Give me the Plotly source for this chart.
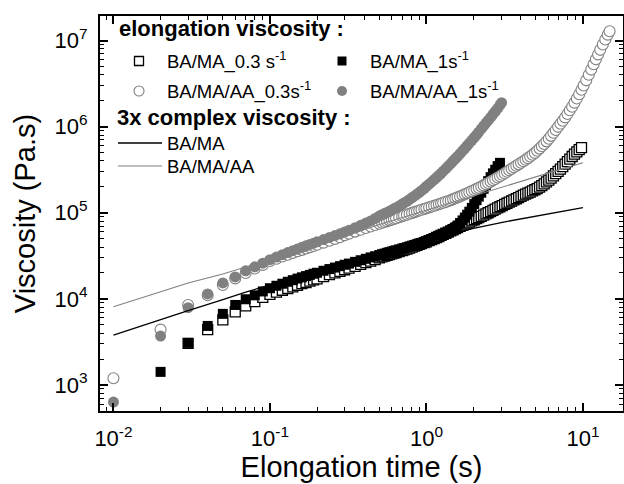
import plotly.graph_objects as go

# ---------------- data ----------------
# BA/MA, 0.3 s^-1 (open squares)
t_bama_03 = [0.03, 0.04, 0.05, 0.06, 0.07, 0.08, 0.09, 0.10, 0.11, 0.12, 0.13, 0.14, 0.15, 0.16, 0.17, 0.18, 0.19, 0.20,
             0.22, 0.24, 0.26, 0.28, 0.30, 0.32, 0.35, 0.38, 0.41, 0.44, 0.47,
             0.50, 0.52, 0.54, 0.56, 0.58, 0.60, 0.62, 0.64, 0.67, 0.70, 0.72, 0.75, 0.78, 0.81, 0.84, 0.87, 0.90, 0.93,
             0.97, 1.00, 1.04, 1.08, 1.12, 1.16, 1.20, 1.24, 1.28, 1.33, 1.38, 1.43, 1.48, 1.53, 1.58, 1.64, 1.70, 1.76,
             1.82, 1.88, 1.95, 2.02, 2.09, 2.16, 2.24, 2.32, 2.40, 2.48, 2.57, 2.66, 2.75, 2.85, 2.95, 3.05, 3.16, 3.27,
             3.38, 3.50, 3.62, 3.75, 3.88, 4.02, 4.16, 4.30, 4.45, 4.60, 4.76, 4.93, 5.10, 5.28, 5.46, 5.65, 5.85, 6.05,
             6.26, 6.48, 6.70, 6.94, 7.18, 7.43, 7.69, 7.96, 8.24, 8.53, 8.83, 9.14, 9.46, 9.79]
v_bama_03 = [3050, 4400, 5700, 7060, 8300, 9300, 10400, 11300, 12000, 12600, 13200, 13800, 14400, 15000, 15500, 16100,
             16600, 17100, 18100, 19100, 20000, 20900, 21800, 22700, 23900, 25100, 26300, 27400, 28500,
             30000, 30700, 31300, 32000, 32600, 33300, 33900, 34500, 35400, 36300, 37000, 37900, 38900, 39900, 40900,
             41900, 42900, 43900, 45000, 46000, 47400, 48800, 50200, 51600, 53000, 54500, 56000, 57800, 59700, 61600,
             63500, 65300, 67200, 69500, 71700, 73800, 75900, 78000, 80600, 83000, 85500, 88000, 91000, 94000, 97000,
             100000, 103000, 106500, 110000, 114000, 117500, 121000, 125000, 129000, 133000, 137000, 141000, 145500,
             150000, 155000, 160000, 164500, 169000, 174000, 179500, 185000, 191000, 199000, 207000, 216000, 228000,
             240000, 253000, 268000, 285000, 303000, 322000, 343000, 367000, 393000, 420000, 450000, 480000, 510000,
             540000, 570000]

# BA/MA, 1 s^-1 (filled squares)
t_bama_1 = [0.02, 0.03, 0.04, 0.05, 0.06, 0.07, 0.08, 0.09, 0.10, 0.11, 0.12, 0.13, 0.14, 0.15, 0.16, 0.17, 0.18, 0.19,
            0.20, 0.22, 0.24, 0.26, 0.28, 0.30, 0.32, 0.35, 0.38, 0.41, 0.44, 0.47,
            0.50, 0.52, 0.54, 0.56, 0.58, 0.60, 0.62, 0.64, 0.67, 0.70, 0.72, 0.75, 0.78, 0.81, 0.84, 0.87, 0.90, 0.93,
            0.97, 1.00, 1.04, 1.08, 1.12, 1.16, 1.20, 1.24, 1.28, 1.33, 1.38, 1.43, 1.48, 1.53, 1.58, 1.64, 1.70, 1.76,
            1.82, 1.88, 1.95, 2.02, 2.09, 2.16, 2.24, 2.32, 2.40, 2.48, 2.57, 2.66, 2.75, 2.85, 2.95]
v_bama_1 = [1420, 3080, 4850, 6700, 8500, 9900, 11000, 12200, 13300, 14200, 15000, 15800, 16500, 17200, 17800, 18400,
            19000, 19600, 20100, 21200, 22200, 23100, 24000, 24900, 25700, 26900, 28100, 29200, 30300, 31300,
            32300, 33000, 33600, 34300, 34900, 35500, 36100, 36700, 37600, 38400, 39000, 39800, 40700, 41500, 42300,
            43100, 43900, 44700, 45800, 46700, 47900, 49100, 50400, 51700, 53000, 54400, 55900, 57800, 59700, 62000,
            64500, 67500, 71000, 76000, 81500, 88000, 95000, 103000, 114000, 126000, 140000, 154000, 171000, 190000,
            211000, 233000, 259000, 287000, 316000, 348000, 380000]

# BA/MA/AA, 0.3 s^-1 (open circles)
t_aa_03 = [0.01, 0.02, 0.03, 0.04, 0.05, 0.06, 0.07, 0.08, 0.09, 0.10, 0.11, 0.12, 0.13, 0.14, 0.15, 0.16, 0.17, 0.18,
           0.19, 0.20, 0.22, 0.24, 0.26, 0.28, 0.30, 0.32, 0.35, 0.38, 0.41, 0.44, 0.47,
           0.50, 0.52, 0.54, 0.56, 0.58, 0.60, 0.62, 0.64, 0.67, 0.70, 0.72, 0.75, 0.78, 0.81, 0.84, 0.87, 0.90, 0.93,
           0.97, 1.00, 1.04, 1.08, 1.12, 1.16, 1.20, 1.24, 1.28, 1.33, 1.38, 1.43, 1.48, 1.53, 1.58, 1.64, 1.70, 1.76,
           1.82, 1.88, 1.95, 2.02, 2.09, 2.16, 2.24, 2.32, 2.40, 2.48, 2.57, 2.66, 2.75, 2.85, 2.95, 3.05, 3.16, 3.27,
           3.38, 3.50, 3.62, 3.75, 3.88, 4.02, 4.16, 4.30, 4.45, 4.60, 4.76, 4.93, 5.10, 5.28, 5.46, 5.65, 5.85, 6.05,
           6.26, 6.48, 6.70, 6.94, 7.18, 7.43, 7.69, 7.96, 8.24, 8.53, 8.83, 9.14, 9.46, 9.79, 10.1, 10.5, 10.9, 11.3,
           11.7, 12.1, 12.5, 12.9, 13.4, 13.9, 14.4, 14.8]
v_aa_03 = [1200, 4400, 8500, 11000, 14500, 17300, 20000, 22500, 24800, 27500, 29300, 31000, 32600, 34200, 35700, 37100,
           38500, 39900, 41200, 42500, 45000, 47400, 49700, 51900, 55000, 57200, 60400, 63500, 66500, 69300, 72000,
           74700, 76500, 78200, 79900, 81600, 83200, 84900, 86500, 88900, 91200, 92800, 95100, 97400, 99600, 101800,
           104000, 106100, 108200, 111000, 113000, 115600, 118200, 120800, 123300, 125800, 128300, 130800, 133900,
           137000, 140100, 144000, 147500, 151000, 155000, 159500, 164000, 168500, 173000, 178500, 184000, 189500,
           195000, 201500, 208000, 215000, 222000, 230000, 238500, 247000, 257000, 266000, 276000, 287500, 299000,
           311000, 324000, 337000, 351000, 365000, 381000, 397000, 413000, 431000, 450000, 471000, 496000, 525000,
           556000, 592000, 630000, 675000, 725000, 782000, 848000, 915000, 995000, 1080000, 1170000, 1280000,
           1400000, 1550000, 1700000, 1900000, 2120000, 2380000, 2680000, 3000000, 3450000, 4000000, 4600000,
           5300000, 6050000, 6900000, 7800000, 9000000, 10300000, 11700000, 12800000]

# BA/MA/AA, 1 s^-1 (filled grey circles)
t_aa_1 = [0.01, 0.02, 0.03, 0.04, 0.05, 0.06, 0.07, 0.08, 0.09, 0.10, 0.11, 0.12, 0.13, 0.14, 0.15, 0.16, 0.17, 0.18,
          0.19, 0.20, 0.22, 0.24, 0.26, 0.28, 0.30, 0.32, 0.35, 0.38, 0.41, 0.44, 0.47,
          0.50, 0.52, 0.54, 0.56, 0.58, 0.60, 0.62, 0.64, 0.67, 0.70, 0.72, 0.75, 0.78, 0.81, 0.84, 0.87, 0.90, 0.93,
          0.97, 1.00, 1.04, 1.08, 1.12, 1.16, 1.20, 1.24, 1.28, 1.33, 1.38, 1.43, 1.48, 1.53, 1.58, 1.64, 1.70, 1.76,
          1.82, 1.88, 1.95, 2.02, 2.09, 2.16, 2.24, 2.32, 2.40, 2.48, 2.57, 2.66, 2.75, 2.85, 2.95, 3.02]
v_aa_1 = [634, 3700, 7900, 11400, 15300, 18000, 21200, 23600, 26000, 28500, 30600, 32600, 34500, 36300, 38000, 39700,
          41300, 42900, 44400, 46000, 48900, 51700, 54400, 57000, 59600, 62500, 67000, 71500, 76000, 80500, 86000,
          92000, 95000, 98000, 101000, 104000, 107500, 111000, 114500, 120000, 126000, 130000, 136000, 143000,
          150000, 157000, 164500, 172500, 180500, 192000, 203000, 215000, 228000, 242000, 256000, 271000, 287000,
          304000, 326000, 349000, 373000, 398000, 424000, 451000, 486000, 522000, 560000, 600000, 642000, 693000,
          748000, 805000, 866000, 940000, 1020000, 1100000, 1180000, 1280000, 1390000, 1500000, 1630000, 1780000,
          1900000]

# 3x complex viscosity
t_cplx = [0.01, 0.02, 0.03, 0.05, 0.07, 0.1, 0.2, 0.3, 0.5, 0.7, 1, 2, 3, 5, 7, 10]
v_cplx_bama = [3800, 5800, 7300, 9800, 12000, 14500, 21000, 26000, 33500, 39500, 47500, 66000, 77000, 92000, 103000,
               115000]
v_cplx_aa = [8100, 12000, 15300, 19500, 23500, 29000, 42000, 53000, 73000, 88000, 108000, 160000, 200000, 265000,
             315000, 380000]

x_tickvals = [0.01, 0.1, 1, 10]
x_ticktext = ["10<sup>-2</sup>", "10<sup>-1</sup>", "10<sup>0</sup>", "10<sup>1</sup>"]
y_tickvals = [1e3, 1e4, 1e5, 1e6, 1e7]
y_ticktext = ["10<sup>3</sup>", "10<sup>4</sup>", "10<sup>5</sup>", "10<sup>6</sup>", "10<sup>7</sup>"]

# ---------------- styling ----------------
FONT = "Liberation Sans, Arial, sans-serif"
GREY = "#808080"
W, H = 624, 484
ML, MR, MT, MB = 100, 1, 16, 73
PW, PH = W - ML - MR, H - MT - MB


def fx(xp):
    return (xp - ML) / PW


def fy(yp):
    return (H - MB - yp) / PH


fig = go.Figure()
fig.add_trace(go.Scatter(x=t_bama_03, y=v_bama_03, mode="markers", name="BA/MA_0.3 s-1",
                         marker=dict(symbol="square", size=10, color="white", line=dict(color="black", width=1.3))))
fig.add_trace(go.Scatter(x=t_bama_1, y=v_bama_1, mode="markers", name="BA/MA_1s-1",
                         marker=dict(symbol="square", size=10, color="black", line=dict(width=0))))
fig.add_trace(go.Scatter(x=t_aa_03, y=v_aa_03, mode="markers", name="BA/MA/AA_0.3s-1",
                         marker=dict(symbol="circle", size=11, color="white", line=dict(color=GREY, width=1.1))))
fig.add_trace(go.Scatter(x=t_aa_1, y=v_aa_1, mode="markers", name="BA/MA/AA_1s-1",
                         marker=dict(symbol="circle", size=11, color=GREY, line=dict(width=0))))
fig.add_trace(go.Scatter(x=t_cplx, y=v_cplx_bama, mode="lines", name="BA/MA",
                         line=dict(color="black", width=1.3)))
fig.add_trace(go.Scatter(x=t_cplx, y=v_cplx_aa, mode="lines", name="BA/MA/AA",
                         line=dict(color=GREY, width=1.1)))

x_minor = [m * 10 ** e for e in range(-3, 2) for m in range(2, 10)]
y_minor = [m * 10 ** e for e in range(2, 8) for m in range(2, 10)]

common = dict(showline=True, linewidth=2, linecolor="black", mirror="allticks", showgrid=False, zeroline=False,
              ticks="inside", ticklen=8, tickwidth=1.5, tickcolor="black",
              tickfont=dict(family=FONT, size=22, color="black"))

fig.update_xaxes(type="log", range=[-2.086, 1.256], tickmode="array", tickvals=x_tickvals, ticktext=x_ticktext,
                 minor=dict(ticks="inside", ticklen=4, tickwidth=1, tickcolor="black", tickmode="array",
                            tickvals=x_minor, showgrid=False),
                 title=dict(text="Elongation time (s)", font=dict(family=FONT, size=29, color="black"), standoff=0),
                 ticklabelstandoff=7, **common)
fig.update_yaxes(type="log", range=[2.698, 7.285], tickmode="array", tickvals=y_tickvals, ticktext=y_ticktext,
                 minor=dict(ticks="inside", ticklen=4, tickwidth=1, tickcolor="black", tickmode="array",
                            tickvals=y_minor, showgrid=False),
                 title=dict(text="Viscosity (Pa.s)", font=dict(family=FONT, size=29, color="black"), standoff=10),
                 ticklabelstandoff=6, **common)

# ---------------- custom legend ----------------
shapes = []
annotations = []


def sym(kind, xp, yp, size, fill, line_color, line_width):
    shapes.append(dict(type=kind, xref="paper", yref="paper", xsizemode="pixel", ysizemode="pixel",
                       xanchor=fx(xp), yanchor=fy(yp), x0=-size / 2, x1=size / 2, y0=-size / 2, y1=size / 2,
                       fillcolor=fill, line=dict(color=line_color, width=line_width), layer="above"))


def label(text, xp, yp, size, bold=False):
    annotations.append(dict(text=f"<b>{text}</b>" if bold else text, xref="paper", yref="paper", x=fx(xp), y=fy(yp),
                            xanchor="left", yanchor="middle", showarrow=False,
                            font=dict(family=FONT, size=size, color="black")))


label("elongation viscosity :", 117, 29, 22, bold=True)
sym("rect", 139, 61, 9, "white", "black", 1.3)
label("BA/MA_0.3 s<sup>-1</sup>", 165, 60, 18.5)
sym("rect", 342, 61, 9, "black", "black", 0)
label("BA/MA_1s<sup>-1</sup>", 368, 60, 18.5)
sym("circle", 139, 91, 10, "white", GREY, 1.1)
label("BA/MA/AA_0.3s<sup>-1</sup>", 165, 90, 18.5)
sym("circle", 342, 91, 10, GREY, GREY, 0)
label("BA/MA/AA_1s<sup>-1</sup>", 368, 90, 18.5)
label("3x complex viscosity :", 115, 117, 22, bold=True)
shapes.append(dict(type="line", xref="paper", yref="paper", x0=fx(118), x1=fx(162), y0=fy(143), y1=fy(143),
                   line=dict(color="black", width=1.3)))
label("BA/MA", 165, 143, 18.5)
shapes.append(dict(type="line", xref="paper", yref="paper", x0=fx(118), x1=fx(162), y0=fy(166), y1=fy(166),
                   line=dict(color=GREY, width=1.1)))
label("BA/MA/AA", 165, 166, 18.5)

fig.update_layout(width=W, height=H, margin=dict(l=ML, r=MR, t=MT, b=MB, autoexpand=False),
                  paper_bgcolor="white", plot_bgcolor="white", showlegend=False,
                  font=dict(family=FONT, color="black"), shapes=shapes, annotations=annotations)

fig.write_html("out.html")
